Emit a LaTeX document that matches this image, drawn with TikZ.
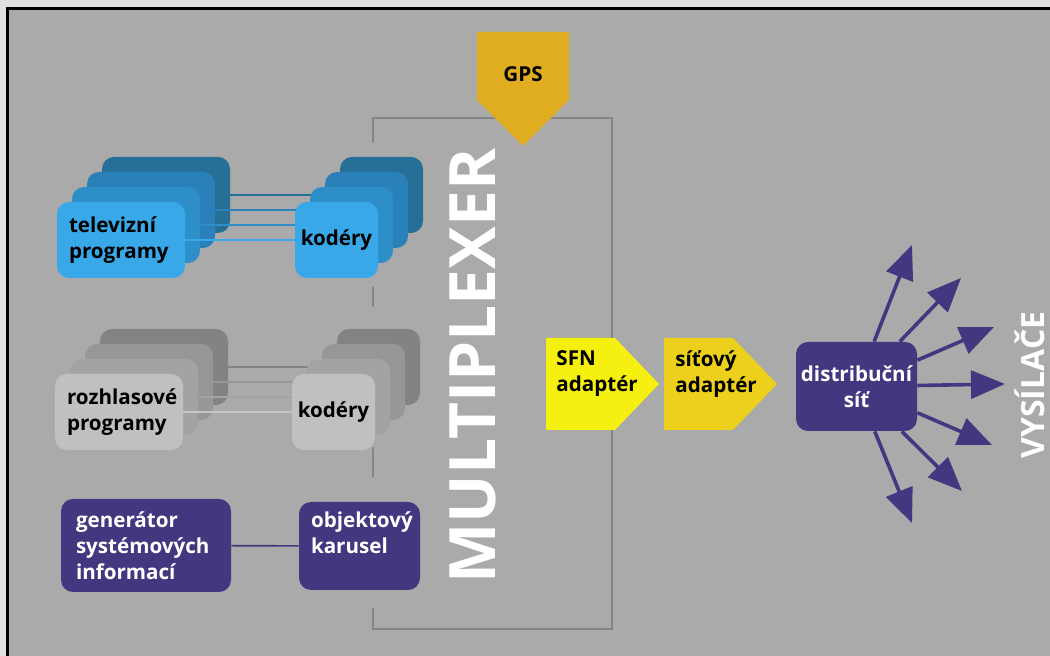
\documentclass[tikz,border=0pt]{standalone}
\usepackage{fontspec}
\setmainfont{Open Sans}
\usetikzlibrary{arrows.meta}

\definecolor{okraj}{HTML}{E0E0E0}
\definecolor{pozadi}{HTML}{AAAAAA}
\definecolor{ramec}{HTML}{858585}
\definecolor{fialova}{HTML}{413880}
\definecolor{tvA}{RGB}{56,168,232}
\definecolor{tvB}{RGB}{46,143,200}
\definecolor{tvC}{RGB}{42,128,185}
\definecolor{tvD}{RGB}{38,112,152}
\definecolor{rzA}{RGB}{192,192,192}
\definecolor{rzB}{RGB}{163,163,163}
\definecolor{rzC}{RGB}{151,151,151}
\definecolor{rzD}{RGB}{131,131,131}
\definecolor{gpsbarva}{RGB}{224,172,32}
\definecolor{sfnbarva}{RGB}{245,240,15}
\definecolor{sitbarva}{RGB}{236,208,28}

\tikzset{
  popis/.style={font=\bfseries\fontsize{10.3}{13}\selectfont, align=left, inner sep=0pt},
  vrstva/.style={rounded corners=6pt, inner sep=0pt, minimum height=38pt},
  prog/.style={vrstva, minimum width=64pt},
  kod/.style={vrstva, minimum width=41.5pt},
  info/.style={popis, fill=fialova, text=white, rounded corners=6pt},
}

\begin{document}
\begin{tikzpicture}[x=0.5pt,y=-0.5pt,>={Triangle[length=17pt,width=14pt]}]
  \clip (0,0) rectangle (1050,656);
  \fill[okraj] (0,0) rectangle (1050,656);
  \filldraw[fill=pozadi, draw=black, line width=1.5pt] (7.5,8.5) rectangle (1080,690);

  % multiplexer frame
  \draw[ramec, line width=1pt] (373,143) -- (373,118) -- (612,118) -- (612,629) -- (373,629) -- (373,608);
  \draw[ramec, line width=1pt] (373,287) -- (373,307) (373,447) -- (373,477);

  % televizni programy
  \foreach \i/\c in {3/tvD,2/tvC,1/tvB}{
    \node[prog, fill=\c] (tv\i) at (121+15*\i,240-15*\i) {};
    \node[kod, fill=\c] (kt\i) at (336.5+15*\i,240-15*\i) {};
    \draw[\c, line width=1pt] (tv\i) -- (kt\i);
  }
  \node[prog, popis, fill=tvA, text width=52pt, inner xsep=6pt] (tv) at (121,240) {televizní\\programy};
  \node[kod, popis, fill=tvA, align=center] (kt) at (336.5,240) {kodéry};
  \draw[tvA, line width=1pt] (tv) -- (kt);

  % rozhlasove programy
  \foreach \i/\c in {3/rzD,2/rzC,1/rzB}{
    \node[prog, fill=\c] (rz\i) at (119+15*\i,412-15*\i) {};
    \node[kod, fill=\c] (kr\i) at (333.5+15*\i,412-15*\i) {};
    \draw[\c, line width=1pt] (rz\i) -- (kr\i);
  }
  \node[prog, popis, fill=rzA, text width=52pt, inner xsep=5.5pt] (rz) at (119,412) {rozhlasové\\programy};
  \node[kod, popis, fill=rzA, align=center] (kr) at (333.5,412) {kodéry};
  \draw[rzA!90!white, line width=1pt] (rz) -- (kr);

  % informace
  \node[info, minimum width=85pt, minimum height=46.5pt, text width=70pt, inner xsep=7.5pt] (gen) at (146,545.5) {generátor\\systémových\\informací};
  \node[info, minimum width=60.5pt, minimum height=44pt, text width=48.5pt, inner xsep=6pt] (obj) at (359.5,546) {objektový\\karusel\\\mbox{}};
  \draw[fialova, line width=0.8pt] (gen) -- (obj);

  \node[white, font=\bfseries\fontsize{32}{32}\selectfont, rotate=90] (mux) at (473,366) {MULTIPLEXER};

  % GPS
  \fill[gpsbarva] (477,32) -- (569,32) -- (569,100) -- (523,146) -- (477,100) -- cycle;
  \node[popis] (gps) at (523,74) {GPS};

  % adaptery
  \fill[sfnbarva] (546,338) -- (615,338) -- (659,384) -- (615,430) -- (546,430) -- cycle;
  \node[popis, anchor=west] (sfn) at (556,374) {SFN\\adaptér};
  \fill[sitbarva] (664,338) -- (733,338) -- (777,384) -- (733,430) -- (664,430) -- cycle;
  \node[popis, anchor=west] (sit) at (675,374) {síťový\\adaptér};

  % distribucni sit
  \node[info, minimum width=60.5pt, minimum height=44.5pt, align=center] (dist) at (856.5,386.5) {distribuční\\síť};
  \foreach \x/\y [count=\k] in {912/245, 961/278, 994/327, 1005/384, 992/445, 962/491, 912/523}{
    \coordinate (t\k) at (\x,\y);
    \draw[->, fialova, line width=1.8pt] (dist) -- (t\k);
  }

  \node[white, font=\bfseries\fontsize{16}{16}\selectfont, rotate=90] (vys) at (1030,385) {VYSÍLAČE};
\end{tikzpicture}
\end{document}
